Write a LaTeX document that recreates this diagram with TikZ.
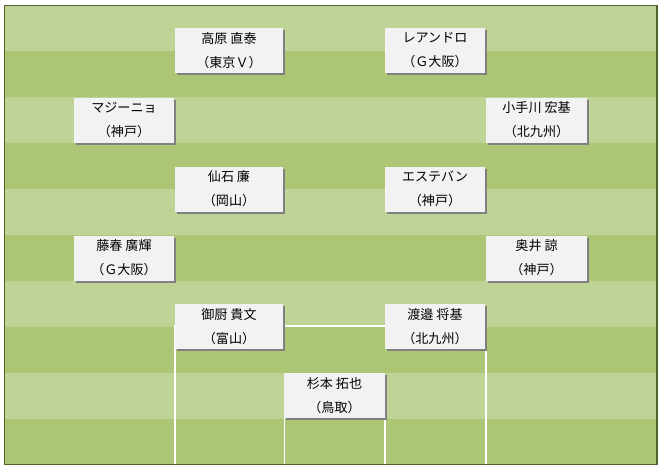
\documentclass[tikz,border=0pt]{standalone}
\usepackage{fontspec}
\setmainfont{Noto Sans CJK JP}
\usetikzlibrary{shadows}
\definecolor{lightturf}{RGB}{192,211,150}
\definecolor{darkturf}{RGB}{172,198,117}
\definecolor{fieldborder}{RGB}{79,98,40}
\definecolor{boxbg}{RGB}{242,242,242}
\definecolor{shadowgray}{RGB}{128,128,128}
\tikzset{
  player/.style={fill=boxbg, minimum height=33.75pt, inner sep=0pt, align=center,
    font=\fontsize{9.8}{18}\selectfont,
    drop shadow={shadow xshift=1.5pt, shadow yshift=-1.5pt, fill=shadowgray, opacity=1}},
  wide/.style={player, minimum width=81pt},
  narrow/.style={player, minimum width=75.5pt},
  pitchline/.style={draw=white, line width=1.2pt}
}
\begin{document}
\begin{tikzpicture}[x=0.75pt, y=-0.75pt]
\useasboundingbox (0,0) rectangle (661,471);
\fill[white] (0,0) rectangle (661,471);
% stripes
\foreach \i in {0,...,9}{
  \pgfmathsetmacro{\ytop}{5+46*\i}
  \pgfmathparse{mod(\i,2)==0 ? 1 : 0}
  \ifnum\pgfmathresult=1
    \fill[lightturf] (4.5,\ytop) rectangle (657,\ytop+46);
  \else
    \fill[darkturf] (4.5,\ytop) rectangle (657,\ytop+46);
  \fi
}
% penalty area and goal area
\draw[pitchline] (175,465) -- (175,326) -- (486,326) -- (486,465);
\draw[pitchline] (284.5,465) -- (284.5,395) -- (385,395) -- (385,465);
% border
\draw[fieldborder, line width=1.2pt] (4.5,5.5) rectangle (657,464.5);
% players
\node[wide]   (takahara) at (229,50.5)   {高原 直泰\\（東京Ｖ）};
\node[narrow] (leandro)  at (435,50.5)   {レアンドロ\\（Ｇ大阪）};
\node[narrow] (magno)    at (124,120)    {マジーニョ\\（神戸）};
\node[narrow] (kotegawa) at (536.5,120)  {小手川 宏基\\（北九州）};
\node[wide]   (sengoku)  at (229,189)    {仙石 廉\\（岡山）};
\node[narrow] (esteban)  at (435,189)    {エステバン\\（神戸）};
\node[narrow] (fujiharu) at (124,258)    {藤春 廣輝\\（Ｇ大阪）};
\node[narrow] (okui)     at (536.5,258)  {奥井 諒\\（神戸）};
\node[wide]   (mikuriya) at (229,326.5)  {御厨 貴文\\（富山）};
\node[narrow] (watanabe) at (435,326.5)  {渡邉 将基\\（北九州）};
\node[narrow] (sugimoto) at (334.5,395.5) {杉本 拓也\\（鳥取）};
\end{tikzpicture}
\end{document}
